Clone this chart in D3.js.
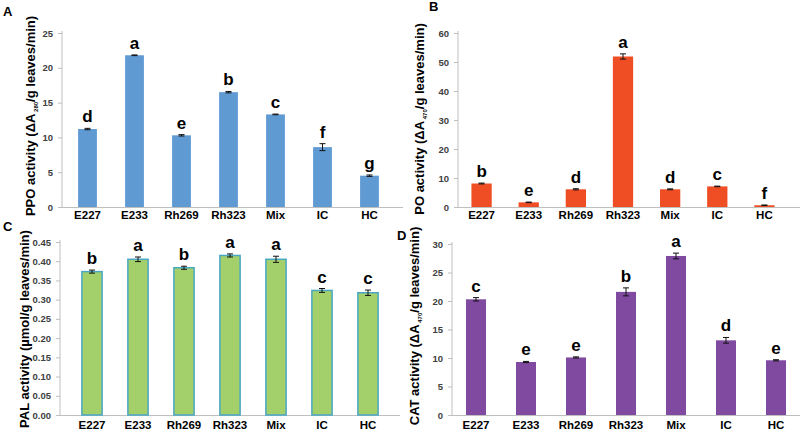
<!DOCTYPE html>
<html>
<head>
<meta charset="utf-8">
<script src="https://cdn.jsdelivr.net/npm/d3@7"></script>
<style>
  body { margin: 0; background: #fff; }
  text { font-family: "Liberation Sans", Arial, sans-serif; }
  .tick text { font-weight: bold; fill: #404040; font-size: 9.5px; }
  .axis path, .axis line { stroke: #bfbfbf; }
</style>
</head>
<body>
<div id="chart"></div>
<script>
const width = 800;
const height = 434;

// Data
const groups = ["E227", "E233", "Rh269", "Rh323", "Mix", "IC", "HC"];

const ppoValues = [11.2, 21.8, 10.3, 16.5, 13.3, 8.6, 4.5];
const ppoErrors = [0.1, 0.05, 0.1, 0.1, 0.05, 0.5, 0.1];
const ppoLetters = ["d", "a", "e", "b", "c", "f", "g"];
const ppoTicks = [0, 5, 10, 15, 20, 25];

const poValues = [8.1, 1.6, 6.1, 51.9, 6.1, 7.1, 0.6];
const poErrors = [0.15, 0.1, 0.2, 0.9, 0.15, 0.1, 0.1];
const poLetters = ["b", "e", "d", "a", "d", "c", "f"];
const poTicks = [0, 10, 20, 30, 40, 50, 60];

const palValues = [0.373, 0.405, 0.383, 0.415, 0.405, 0.324, 0.318];
const palErrors = [0.004, 0.006, 0.004, 0.004, 0.008, 0.005, 0.007];
const palLetters = ["b", "a", "b", "a", "a", "c", "c"];
const palTicks = [0, 0.05, 0.10, 0.15, 0.20, 0.25, 0.30, 0.35, 0.40, 0.45];

const catValues = [20.3, 9.3, 10.1, 21.6, 27.9, 13.1, 9.6];
const catErrors = [0.3, 0.1, 0.1, 0.7, 0.5, 0.5, 0.1];
const catLetters = ["c", "e", "e", "b", "a", "d", "e"];
const catTicks = [0, 5, 10, 15, 20, 25, 30];

const svg = d3.select("#chart")
  .append("svg")
  .attr("width", width)
  .attr("height", height);

function drawPanel(p) {
  const x = d3.scaleBand()
    .domain(groups)
    .range([p.bandStart, p.bandEnd])
    .paddingInner(p.pad)
    .paddingOuter(p.pad / 2);

  const y = d3.scaleLinear()
    .domain([0, p.max])
    .range([p.bottom, p.top]);

  const g = svg.append("g");

  // y axis
  const yAxis = g.append("g")
    .attr("class", "axis")
    .attr("transform", "translate(" + p.axisX + ",0)")
    .call(d3.axisLeft(y).tickValues(p.ticks).tickSize(4).tickPadding(5)
      .tickFormat(p.format));
  yAxis.select(".domain").attr("d", "M0," + p.bottom + "V" + (p.top - 2));

  // x axis line
  g.append("line")
    .attr("x1", p.axisX - 4)
    .attr("x2", p.axisEnd)
    .attr("y1", p.bottom + 0.5)
    .attr("y2", p.bottom + 0.5)
    .attr("stroke", "#bfbfbf");

  const data = groups.map(function(name, i) {
    return { name: name, value: p.values[i], err: p.errors[i], letter: p.letters[i] };
  });

  g.selectAll(".bar")
    .data(data)
    .enter()
    .append("rect")
    .attr("x", function(d) { return x(d.name); })
    .attr("y", function(d) { return y(d.value); })
    .attr("width", x.bandwidth())
    .attr("height", function(d) { return p.bottom - y(d.value); })
    .attr("fill", p.color)
    .attr("stroke", p.stroke || "none")
    .attr("stroke-width", p.stroke ? 1.5 : 0);

  // error bars
  const cx = function(d) { return x(d.name) + x.bandwidth() / 2; };
  const eb = g.selectAll(".err")
    .data(data)
    .enter()
    .append("g");
  eb.append("line")
    .attr("x1", cx).attr("x2", cx)
    .attr("y1", function(d) { return y(d.value - d.err); })
    .attr("y2", function(d) { return y(d.value + d.err); })
    .attr("stroke", "#111").attr("stroke-width", 1);
  [1, -1].forEach(function(s) {
    eb.append("line")
      .attr("x1", function(d) { return cx(d) - 3; })
      .attr("x2", function(d) { return cx(d) + 3; })
      .attr("y1", function(d) { return y(d.value + s * d.err); })
      .attr("y2", function(d) { return y(d.value + s * d.err); })
      .attr("stroke", "#111").attr("stroke-width", 1);
  });

  // significance letters
  g.selectAll(".letter")
    .data(data)
    .enter()
    .append("text")
    .attr("x", cx)
    .attr("y", function(d) { return y(d.value + d.err) - 6; })
    .attr("text-anchor", "middle")
    .attr("font-size", "17px")
    .attr("font-weight", "bold")
    .text(function(d) { return d.letter; });

  // category labels
  g.selectAll(".cat")
    .data(data)
    .enter()
    .append("text")
    .attr("x", cx)
    .attr("y", p.labelY)
    .attr("text-anchor", "middle")
    .attr("font-size", "11.5px")
    .attr("font-weight", "bold")
    .text(function(d) { return d.name; });

  // y title
  const t = g.append("text")
    .attr("transform", "translate(" + p.titleX + "," + p.titleY + ") rotate(-90)")
    .attr("text-anchor", "middle")
    .attr("font-size", "13px")
    .attr("font-weight", "bold");
  t.append("tspan").text(p.title[0]);
  if (p.title.length > 2) {
    t.append("tspan").attr("font-size", "6px").attr("dy", 3).text(" " + p.title[1]);
    t.append("tspan").attr("dy", -3).text(p.title[2]);
  }

  // panel letter
  svg.append("text")
    .attr("x", p.tagX)
    .attr("y", p.tagY)
    .attr("font-size", "13px")
    .attr("font-weight", "bold")
    .text(p.tag);
}

drawPanel({
  tag: "A", tagX: 3, tagY: 16,
  values: ppoValues, errors: ppoErrors, letters: ppoLetters, ticks: ppoTicks,
  max: 25, top: 33, bottom: 207, axisX: 62, axisEnd: 403,
  bandStart: 64, bandEnd: 393, pad: 0.6, color: "#5f9ad3",
  labelY: 219, titleX: 35, titleY: 116, format: d3.format("d"),
  title: ["PPO activity (ΔA", "280", "/g leaves/min)"]
});

drawPanel({
  tag: "B", tagX: 429, tagY: 11,
  values: poValues, errors: poErrors, letters: poLetters, ticks: poTicks,
  max: 60, top: 33, bottom: 207, axisX: 458, axisEnd: 800,
  bandStart: 458, bandEnd: 788, pad: 0.57, color: "#ef4d24",
  labelY: 219, titleX: 424, titleY: 119, format: d3.format("d"),
  title: ["PO activity (ΔA", "470", "/g leaves/min)"]
});

drawPanel({
  tag: "C", tagX: 3, tagY: 231,
  values: palValues, errors: palErrors, letters: palLetters, ticks: palTicks,
  max: 0.45, top: 242, bottom: 415, axisX: 60, axisEnd: 400,
  bandStart: 69, bandEnd: 391, pad: 0.56, color: "#a3d06b", stroke: "#4aa7c4",
  labelY: 429, titleX: 29, titleY: 329, format: d3.format(".2f"),
  title: ["PAL activity (µmol/g leaves/min)"]
});

drawPanel({
  tag: "D", tagX: 397, tagY: 240,
  values: catValues, errors: catErrors, letters: catLetters, ticks: catTicks,
  max: 30, top: 244, bottom: 415, axisX: 452, axisEnd: 800,
  bandStart: 451, bandEnd: 801, pad: 0.6, color: "#7f4aa0",
  labelY: 429, titleX: 419, titleY: 326, format: d3.format("d"),
  title: ["CAT activity (ΔA", "470", "/g leaves/min)"]
});
</script>
</body>
</html>
